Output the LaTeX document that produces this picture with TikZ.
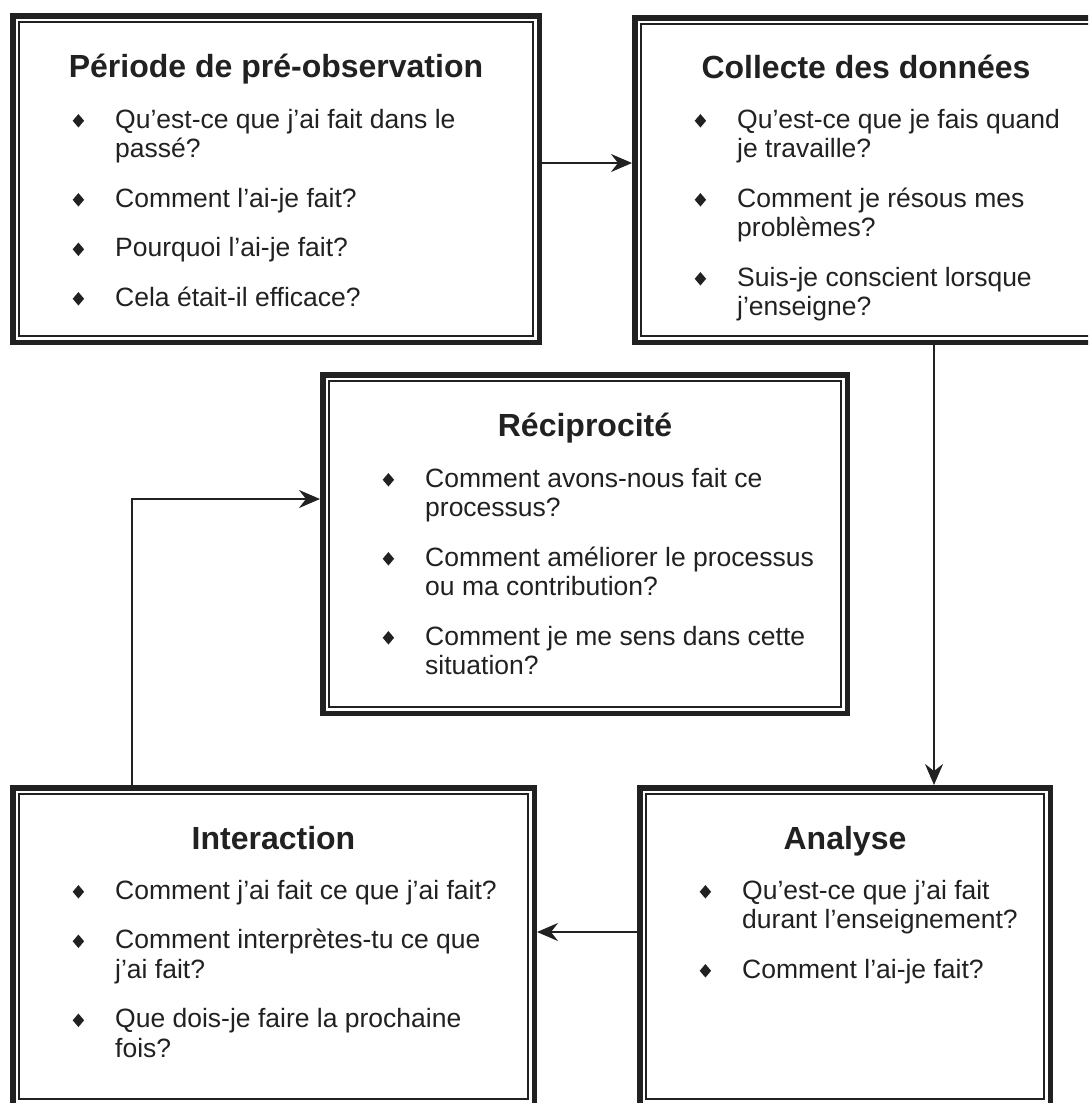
\documentclass[tikz,border=0pt]{standalone}
\usepackage{fontspec}
\setmainfont{Liberation Sans}
\usepackage{graphicx}
\usetikzlibrary{arrows.meta}
\definecolor{ink}{gray}{0.13}
\newcommand\dia{\raisebox{0.5pt}{\scalebox{0.85}[1]{\rotatebox{45}{\rule{9.5pt}{9.5pt}}}}}
\newcommand\bul{\makebox[42.5pt][l]{\dia}}
\begin{document}
\begin{tikzpicture}[x=1pt,y=-1pt,
  frame/.style={draw=ink, line width=5.5pt, rectangle, inner sep=0pt, anchor=north west},
  inner/.style={draw=ink, line width=1.6pt},
  ttl/.style={text=ink, inner sep=0pt, anchor=base, font=\fontsize{32pt}{36pt}\selectfont\bfseries},
  items/.style={text=ink, inner sep=0pt, anchor=base west, font=\fontsize{26.5pt}{29.5pt}\selectfont},
  arr/.style={draw=ink, line width=1.8pt, -{Stealth[length=21pt, width=18pt, inset=7pt]}}]
\path[use as bounding box, clip] (0,0) rectangle (1088,1103);
\fill[white] (0,0) rectangle (1088,1103);

% frames
\node[frame, minimum width=526.5pt, minimum height=326.5pt] (b1) at (10,13) {};
\node[frame, minimum width=462.5pt, minimum height=324.5pt] (b2) at (632,15) {};
\node[frame, minimum width=524.5pt, minimum height=338.5pt] (b3) at (320,372) {};
\node[frame, minimum width=521.5pt, minimum height=317.5pt] (b4) at (10,785) {};
\node[frame, minimum width=410.5pt, minimum height=317.5pt] (b5) at (637,785) {};
\foreach \b in {b1,b2,b3,b4,b5}
  \draw[inner] ([shift={(9pt,-9pt)}]\b.north west) rectangle ([shift={(-9pt,9pt)}]\b.south east);

% titles
\coordinate (h1) at (0,77);
\coordinate (h2) at (0,78);
\coordinate (h3) at (0,436);
\coordinate (h4) at (0,849);
\node[ttl] (t1) at (b1.north |- h1) {Période de pré-observation};
\node[ttl] (t2) at (b2.north |- h2) {Collecte des données};
\node[ttl] (t3) at (b3.north |- h3) {Réciprocité};
\node[ttl] (t4) at (b4.north |- h4) {Interaction};
\node[ttl] (t5) at (b5.north |- h4) {Analyse};

% items
\node[items] (l1) at (72.5,128) {\begin{tabular}[t]{@{}l@{}l@{}}
\bul & Qu’est-ce que j’ai fait dans le\\
 & passé?\\[20pt]
\bul & Comment l’ai-je fait?\\[20pt]
\bul & Pourquoi l’ai-je fait?\\[20pt]
\bul & Cela était-il efficace?
\end{tabular}};
\node[items] (l2) at (694.5,128) {\begin{tabular}[t]{@{}l@{}l@{}}
\bul & Qu’est-ce que je fais quand\\
 & je travaille?\\[20pt]
\bul & Comment je résous mes\\
 & problèmes?\\[20pt]
\bul & Suis-je conscient lorsque\\
 & j’enseigne?
\end{tabular}};
\node[items] (l3) at (382.5,487) {\begin{tabular}[t]{@{}l@{}l@{}}
\bul & Comment avons-nous fait ce\\
 & processus?\\[20pt]
\bul & Comment améliorer le processus\\
 & ou ma contribution?\\[20pt]
\bul & Comment je me sens dans cette\\
 & situation?
\end{tabular}};
\node[items] (l4) at (72.5,899) {\begin{tabular}[t]{@{}l@{}l@{}}
\bul & Comment j’ai fait ce que j’ai fait?\\[20pt]
\bul & Comment interprètes-tu ce que\\
 & j’ai fait?\\[20pt]
\bul & Que dois-je faire la prochaine\\
 & fois?
\end{tabular}};
\node[items] (l5) at (699.5,899) {\begin{tabular}[t]{@{}l@{}l@{}}
\bul & Qu’est-ce que j’ai fait\\
 & durant l’enseignement?\\[20pt]
\bul & Comment l’ai-je fait?
\end{tabular}};

% connectors
\coordinate (ya) at (0,163);
\coordinate (xb) at (934,0);
\coordinate (yc) at (0,932);
\coordinate (cd) at (132,499);
\draw[arr] (b1.east |- ya) -- (b2.west |- ya);
\draw[arr] (b2.south -| xb) -- (b5.north -| xb);
\draw[arr] (b5.west |- yc) -- (b4.east |- yc);
\draw[arr] (b4.north -| cd) |- (b3.west |- cd);
\end{tikzpicture}
\end{document}
